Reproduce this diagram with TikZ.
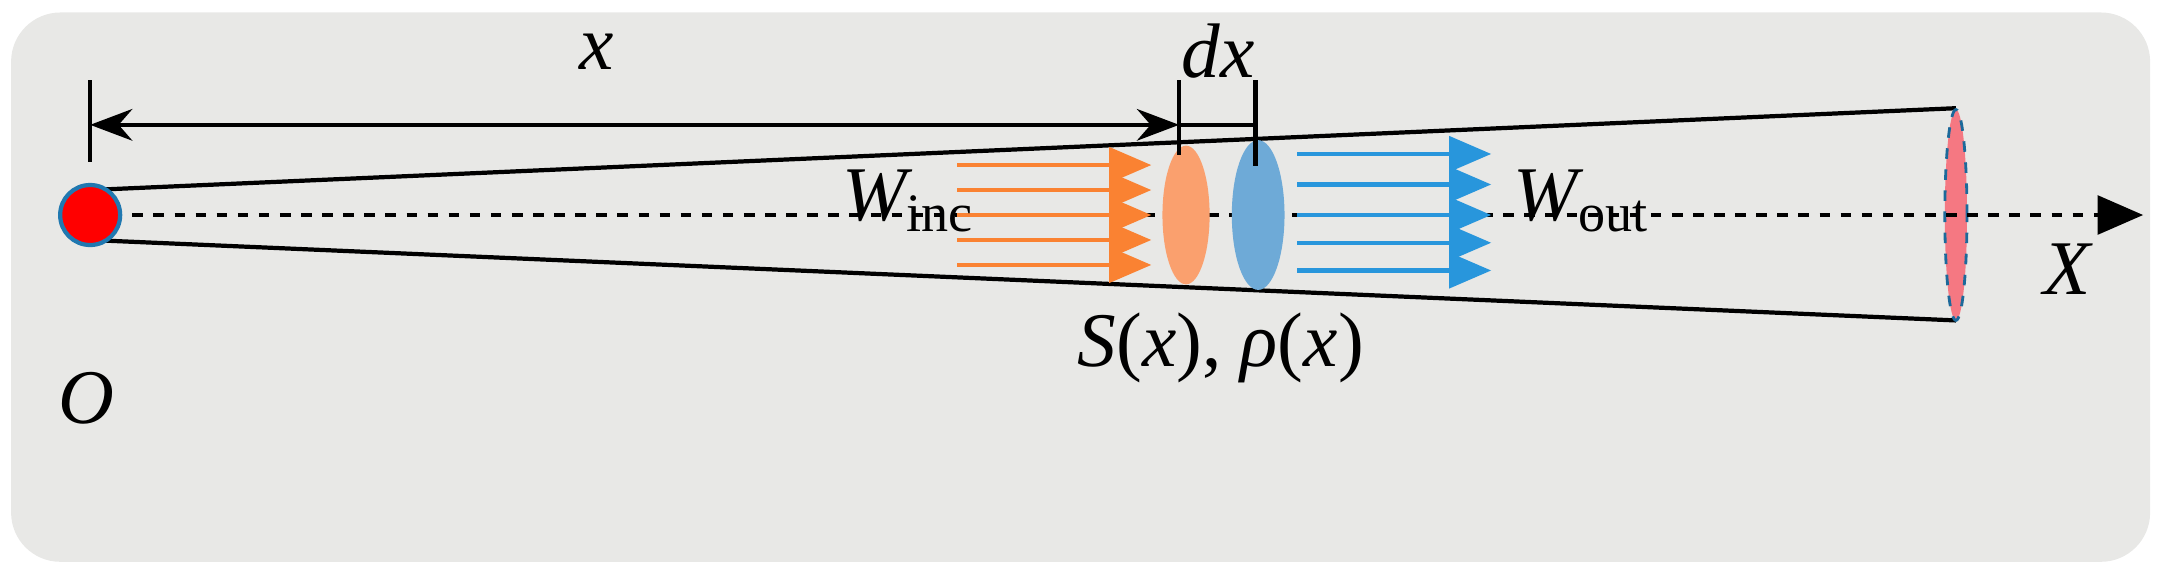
\documentclass[tikz,border=0pt]{standalone}
\usepackage{fontspec}
\setmainfont{Liberation Serif}
\usetikzlibrary{arrows.meta}
\definecolor{bgray}{RGB}{232,232,230}
\definecolor{incorange}{RGB}{250,130,50}
\definecolor{outblue}{RGB}{40,150,220}
\definecolor{sliceorange}{RGB}{250,160,110}
\definecolor{sliceblue}{RGB}{110,170,215}
\definecolor{endpink}{RGB}{245,120,130}

\begin{document}
\begin{tikzpicture}[x=1.387cm,y=1.387cm,font=\fontsize{22}{26}\selectfont\itshape]
\useasboundingbox (0,0) rectangle (15.6,4.17);
\fill[bgray, rounded corners=14pt] (0.08,0.12) rectangle (15.5,4.08);

% cone
\coordinate (o) at (0.65,2.62);
\coordinate (top end) at (14.1,3.39);
\coordinate (bot end) at (14.1,1.86);
\draw[very thick] (0.65,2.80) -- (top end);
\draw[very thick] (0.65,2.44) -- (bot end);
\fill[endpink] (14.1,2.62) ellipse (0.08 and 0.76);
\draw[outblue!70!black, thick, dashed] (14.1,2.62) ellipse (0.08 and 0.76);

% axis
\coordinate (axis end) at (15.45,2.62);
\draw[very thick, dashed, -{Triangle[length=13pt,width=11pt]}] (o) -- (axis end);
\node[circle, fill=red, draw=outblue!80!black, very thick, minimum size=0.6cm, inner sep=0pt] (origin) at (o) {};

% slices
\fill[sliceorange] (8.55,2.62) ellipse (0.17 and 0.5);
\fill[sliceblue] (9.07,2.62) ellipse (0.19 and 0.54);

% flux arrows
\foreach \y in {2.98,2.80,2.62,2.44,2.26}
    \draw[incorange, very thick, -{Triangle[length=12pt,width=10pt]}] (6.9,\y) -- (8.3,\y);
\foreach \y in {3.06,2.84,2.62,2.42,2.22}
    \draw[outblue, very thick, -{Triangle[length=12pt,width=10pt]}] (9.35,\y) -- (10.75,\y);

% dimensions
\coordinate (d0) at (0.65,3.27);
\coordinate (d1) at (8.5,3.27);
\coordinate (d2) at (9.05,3.27);
\draw[very thick] (0.65,3.59) -- (0.65,3.0);
\draw[very thick] (8.5,3.59) -- (8.5,3.05);
\draw[very thick] (9.05,3.59) -- (9.05,2.97);
\draw[very thick, {Stealth[length=12pt]}-{Stealth[length=12pt]}] (d0) -- (d1);
\draw[very thick] (d1) -- (d2);

% labels
\node (lx) at (4.3,3.8) {x};
\node (ldx) at (8.78,3.8) {dx};
\node (lwinc) at (6.55,2.72) {W\textsubscript{\upshape inc}};
\node (lwout) at (11.4,2.72) {W\textsubscript{\upshape out}};
\node (lX) at (14.9,2.23) {X};
\node (lO) at (0.62,1.3) {O};
\node (ls) at (8.8,1.66) {S\/{\upshape(}x{\upshape)}{\upshape,} ρ{\upshape(}x{\upshape)}};
\end{tikzpicture}
\end{document}
